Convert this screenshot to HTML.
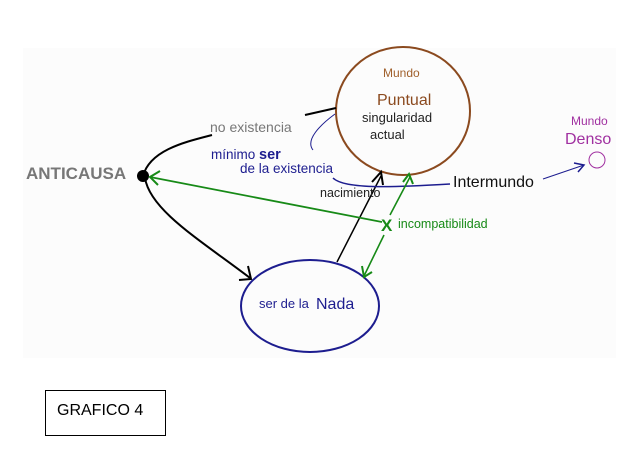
<!DOCTYPE html>
<html><head><meta charset="utf-8"><style>
body{margin:0;background:#fff;}
svg{display:block;font-family:"Liberation Sans","DejaVu Sans",sans-serif;}
</style></head><body>
<svg width="630" height="450" viewBox="0 0 630 450">
<rect x="23" y="48" width="593" height="310" fill="#fcfcfc"/>
<!-- Puntual circle -->
<ellipse cx="403" cy="111" rx="67" ry="64" fill="none" stroke="#8b4a1f" stroke-width="2"/>
<text x="383" y="77" font-size="12" fill="#a0602c">Mundo</text>
<text x="377" y="105" font-size="16" fill="#8b4a1f">Puntual</text>
<text x="362" y="122" font-size="13" fill="#222">singularidad</text>
<text x="370" y="139" font-size="13" fill="#222">actual</text>
<!-- Nada -->
<ellipse cx="310" cy="306" rx="69" ry="46" fill="none" stroke="#1d1d8f" stroke-width="2"/>
<text x="259" y="308" font-size="13" fill="#1d1d8f">ser de la</text>
<text x="316" y="309" font-size="16" fill="#1d1d8f">Nada</text>
<!-- Anticausa -->
<text x="26" y="179" font-size="17" font-weight="bold" fill="#777">ANTICAUSA</text>
<circle cx="143" cy="176" r="6" fill="#000"/>
<!-- black curves -->
<path d="M143 176 C150 150,185 142,212 135" fill="none" stroke="#000" stroke-width="2"/>
<path d="M305 115 L336 108" fill="none" stroke="#000" stroke-width="2"/>
<path d="M145 178 C150 210,200 240,250 278" fill="none" stroke="#000" stroke-width="2"/>
<path d="M248 266 L251 279 L239 280" fill="none" stroke="#000" stroke-width="2"/>
<text x="210" y="132" font-size="14" fill="#777">no existencia</text>
<!-- nacimiento -->
<path d="M337 262 L381 176" stroke="#000" stroke-width="1.5"/>
<path d="M372 182 L381 172 L383 185" fill="none" stroke="#000" stroke-width="2"/>
<text x="320" y="197" font-size="12.5" fill="#222">nacimiento</text>
<!-- blue minimo ser -->
<path d="M335 114 C320 125,305 140,313 150" fill="none" stroke="#1d1d8f" stroke-width="1"/>
<path d="M333 178 C345 190,400 187,450 184" fill="none" stroke="#1d1d8f" stroke-width="1.5"/>
<text x="211" y="159" font-size="13.5" fill="#1d1d8f">mínimo <tspan font-weight="bold" font-size="14.5">ser</tspan></text>
<text x="240" y="173" font-size="13.5" fill="#1d1d8f">de la existencia</text>
<text x="453" y="187" font-size="16" fill="#111">Intermundo</text>
<path d="M543 179 L584 165" stroke="#1d1d8f" stroke-width="1"/>
<path d="M574 163 L584 165 L578 172" fill="none" stroke="#1d1d8f" stroke-width="1.5"/>
<ellipse cx="597" cy="160" rx="8" ry="8" fill="none" stroke="#a030a0" stroke-width="1"/>
<text x="571" y="125" font-size="12" fill="#a030a0">Mundo</text>
<text x="565" y="144" font-size="16" fill="#a030a0">Denso</text>
<!-- green -->
<path d="M150 177 L382 222" stroke="#178a17" stroke-width="1.8"/>
<path d="M160 171 L150 177 L158 185" fill="none" stroke="#178a17" stroke-width="2"/>
<path d="M410 177 L390 215 M384 235 L364 276" stroke="#178a17" stroke-width="1.6"/>
<path d="M403 182 L409 174 L413 184" fill="none" stroke="#178a17" stroke-width="2"/>
<path d="M362 266 L364 277 L372 272" fill="none" stroke="#178a17" stroke-width="2"/>
<text x="381" y="231" font-size="17" font-weight="bold" fill="#178a17">X</text>
<text x="398" y="228" font-size="12.5" fill="#178a17">incompatibilidad</text>
<!-- Grafico -->
<rect x="45.5" y="390.5" width="120" height="45" fill="#fff" stroke="#000" stroke-width="1"/>
<text x="57" y="415" font-size="16" fill="#000">GRAFICO 4</text>
</svg>
</body></html>
